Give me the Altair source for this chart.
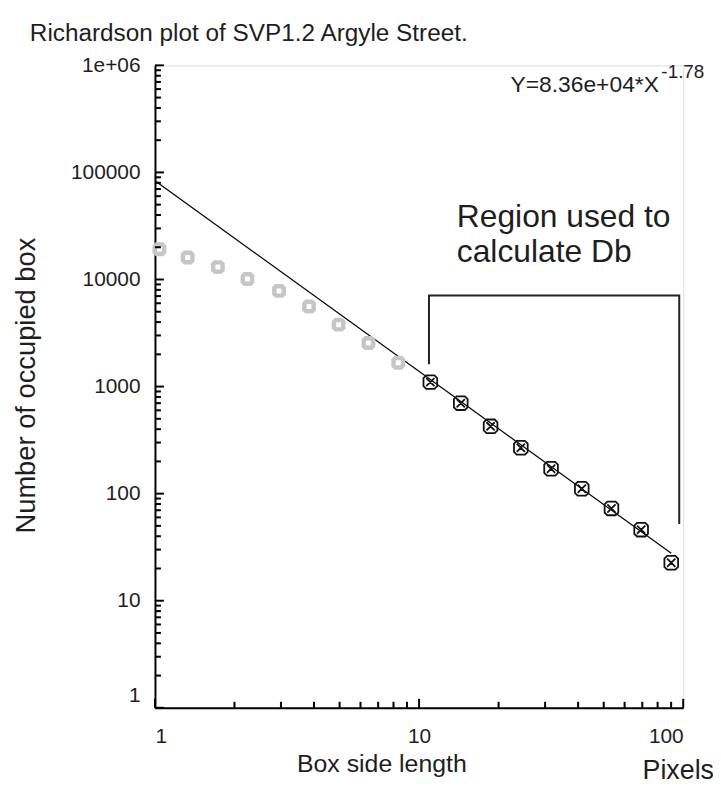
import altair as alt
import pandas as pd

# ---- texts ----
title_text = "Richardson plot of SVP1.2 Argyle Street."
eq_main = "Y=8.36e+04*X"
eq_sup = "-1.78"
region_lines = ["Region used to", "calculate Db"]
x_title = "Box side length"
y_title = "Number of occupied box"
unit_label = "Pixels"

# ---- fit from the printed equation ----
fit_a = 8.36e4
fit_b = -1.78

# ---- data ----
box_gray = [1.04, 1.33, 1.73, 2.24, 2.95, 3.83, 4.96, 6.43, 8.34]
count_gray = [19180, 16030, 13060, 10110, 7820, 5590, 3785, 2555, 1667]
box_fit = [11.03, 14.38, 18.65, 24.28, 31.6, 41.3, 53.5, 69.3, 90.1]
count_fit = [1100, 700, 425, 268, 171, 111, 72.8, 46.1, 22.6]

# region bracket (data coordinates)
bracket_x = [10.9, 10.9, 96.6, 96.6]
bracket_y = [1620, 7080, 7080, 52]

# axis ranges and ticks
x_domain = [1, 100]
y_domain = [1, 1000000]
x_ticks_major = [1, 10, 100]
y_ticks_major = [1, 10, 100, 1000, 10000, 100000, 1000000]
x_ticks_minor = [d * k for d in [1, 10] for k in range(2, 10)]
y_ticks_minor = [d * k for d in [1, 10, 100, 1000, 10000, 100000] for k in range(2, 10)]

W, H = 532, 647
FONT = "Liberation Sans, Arial, Helvetica, sans-serif"
TXT = "#1e1e1e"

xs = alt.Scale(type="log", domain=x_domain, nice=False)
ys = alt.Scale(type="log", domain=y_domain, nice=False)

x_axis = alt.Axis(
    values=x_ticks_major, ticks=False, grid=False, format="d",
    domainColor="#000", domainWidth=2,
    labelFont=FONT, labelFontSize=21, labelColor=TXT, labelPadding=18,
    title=x_title, titleFont=FONT, titleFontSize=25, titleFontWeight="normal",
    titleColor=TXT, titleX=228, titleY=44, titleBaseline="top", titleAlign="center",
)
y_axis = alt.Axis(
    values=y_ticks_major, ticks=False, grid=False,
    labelExpr="datum.value >= 1000000 ? '1e+06' : format(datum.value, 'd')",
    domainColor="#000", domainWidth=2,
    labelFont=FONT, labelFontSize=21, labelColor=TXT, labelPadding=15,
    labelOffset={"condition": {"test": "datum.value == 1", "value": -12}, "value": 0},
    title=y_title, titleFont=FONT, titleFontSize=27.5, titleFontWeight="normal",
    titleColor=TXT, titleX=-129, titleY=322, titleBaseline="middle",
    titleAlign="center", titleAngle=270,
)

X = alt.X("x:Q", scale=xs, axis=x_axis)
Y = alt.Y("y:Q", scale=ys, axis=y_axis)

gray_df = pd.DataFrame({"x": box_gray, "y": count_gray})
fit_df = pd.DataFrame({"x": box_fit, "y": count_fit})
fit_x = [1, box_fit[-1]]
line_df = pd.DataFrame({"x": fit_x, "y": [fit_a * v ** fit_b for v in fit_x]})
br_df = pd.DataFrame({"x": bracket_x, "y": bracket_y, "o": list(range(len(bracket_x)))})

# inward tick marks: short bars anchored on the axis lines
RIGHT_MINOR = "M0,-0.17L1,-0.17L1,0.17L0,0.17Z"
RIGHT_MAJOR = "M0,-0.11L1,-0.11L1,0.11L0,0.11Z"
UP_MINOR = "M-0.17,0L-0.17,-1L0.17,-1L0.17,0Z"
UP_MAJOR = "M-0.11,0L-0.11,-1L0.11,-1L0.11,0Z"


def y_ticks(vals, size, shape):
    df = pd.DataFrame({"x": [x_domain[0]] * len(vals), "y": vals})
    return alt.Chart(df).mark_point(
        shape=shape, size=size, filled=True, fill="#000", strokeWidth=0, opacity=1
    ).encode(x=X, y=Y)


def x_ticks(vals, size, shape):
    df = pd.DataFrame({"x": vals, "y": [y_domain[0]] * len(vals)})
    return alt.Chart(df).mark_point(
        shape=shape, size=size, filled=True, fill="#000", strokeWidth=0, opacity=1
    ).encode(x=X, y=Y)


fit_line = alt.Chart(line_df).mark_line(color="#000", strokeWidth=1.2).encode(x=X, y=Y)
bracket = alt.Chart(br_df).mark_line(color="#222", strokeWidth=2).encode(
    x=X, y=Y, order="o:Q"
)

octagon = "M-0.6,-1L0.6,-1L1,-0.6L1,0.6L0.6,1L-0.6,1L-1,0.6L-1,-0.6Z"
octx = octagon + "M-0.6,-0.6L0.6,0.6M-0.6,0.6L0.6,-0.6"

gray_pts = alt.Chart(gray_df).mark_point(
    shape=octagon, size=90, filled=False, stroke="#c6c6c6", strokeWidth=4.5, opacity=1
).encode(x=X, y=Y)
fit_pts = alt.Chart(fit_df).mark_point(
    shape=octx, size=190, filled=False, stroke="#111", strokeWidth=1.8, opacity=1
).encode(x=X, y=Y)

one = pd.DataFrame({"k": [0]})


def label(text, px, py, size, align="left", baseline="alphabetic", line_height=None):
    kw = dict(text=text, font=FONT, fontSize=size, color=TXT, align=align, baseline=baseline)
    if line_height is not None:
        kw["lineHeight"] = line_height
    return alt.Chart(one).mark_text(**kw).encode(x=alt.value(px), y=alt.value(py))


texts = [
    label(title_text, -126, -25, 24.5),
    label(eq_main, 358, 27, 23),
    label(eq_sup, 510, 13, 19),
    label(region_lines, 304, 163, 32, line_height=35),
    label(unit_label, 527, 719, 27, align="center"),
]

chart = alt.layer(
    fit_line,
    bracket,
    gray_pts,
    fit_pts,
    *texts,
    y_ticks(y_ticks_minor, 144, RIGHT_MINOR),
    y_ticks(y_ticks_major, 324, RIGHT_MAJOR),
    x_ticks(x_ticks_minor, 144, UP_MINOR),
    x_ticks(x_ticks_major, 324, UP_MAJOR),
).properties(
    width=W, height=H, autosize="none",
    padding={"left": 148, "top": 55, "right": 30, "bottom": 74},
).configure_view(stroke=None).configure(background="white")

chart.save("out.html", embed_options={"renderer": "svg", "actions": False})
